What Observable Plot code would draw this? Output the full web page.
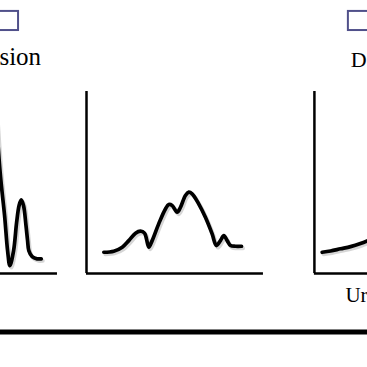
<!DOCTYPE html>
<html>
<head>
<meta charset="utf-8">
<script src="https://cdn.jsdelivr.net/npm/d3@7"></script>
<script src="https://cdn.jsdelivr.net/npm/@observablehq/plot@0.6"></script>
<style>
  html, body { margin: 0; padding: 0; background: white; }
  svg { overflow: hidden; display: block; }
</style>
</head>
<body>
<div id="chart"></div>
<script>
// Panels (schematic signal plots), local units: x 0..100 along x-axis, y 0..100 up the y-axis
const panels = ["left", "middle", "right"];
const panelOrigin = [-116.4, 0, 128.8];
const axisLength = [100, 100, 100];
const axisHeight = [100, 100, 100];

// Left panel curve (visible part)
const leftTime   = [63.3, 67.6, 70.1, 71.8, 73.1, 75.2, 76.9, 78.3, 79.5, 80.8, 82.2, 83.1, 83.8, 85.7, 88.5, 90.8];
const leftSignal = [117.0, 55.5, 31.9, 12.6, 4.4, 12.6, 28.0, 37.4, 40.5, 37.4, 26.4, 18.1, 12.6, 9.3, 8.1, 8.1];

// Middle panel curve
const midTime   = [9.8, 15.4, 20.2, 23.9, 27.7, 30.5, 32.8, 33.9, 35.2, 37.1, 40.8, 44.6, 46.5, 48.4, 51.2, 53.1, 55.9, 57.8, 59.7, 63.4, 67.2, 71.0, 73.4, 75.7, 77.6, 79.5, 81.4, 84.2, 87.6];
const midSignal = [11.7, 12.3, 14.5, 18.1, 22.2, 23.3, 22.2, 19.0, 14.5, 18.1, 27.3, 35.5, 37.9, 37.4, 33.7, 36.4, 42.9, 44.7, 43.8, 38.3, 30.9, 21.8, 15.4, 18.1, 20.9, 18.1, 15.4, 15.0, 15.0];

// Right panel curve (visible part)
const rightTime   = [4.4, 9.1, 14.7, 20.4, 26.0, 31.7, 37.3];
const rightSignal = [11.7, 12.4, 13.6, 14.8, 16.5, 18.7, 21.4];

// Labels (visible fragments)
const labelText = ["sion", "D", "Ur"];
const labelX    = [-49.2, 149.4, 146.3];
const labelY    = [114.3, 113.7, -15.4];
const labelSize = [25, 22, 21];

// Legend-like boxes at top
const boxX1 = [-52, 148.0];
const boxX2 = [-38.4, 165];
const boxY1 = [133.5, 133.5];
const boxY2 = [144.0, 144.0];

// Thick divider line
const dividerY = [-32.1];

const times = [leftTime, midTime, rightTime];
const signals = [leftSignal, midSignal, rightSignal];

const curves = panels.flatMap((p, i) =>
  times[i].map((t, j) => ({panel: p, x: panelOrigin[i] + t, y: signals[i][j]}))
);
const axes = panels.map((p, i) => ({panel: p, x0: panelOrigin[i], x1: panelOrigin[i] + axisLength[i], top: axisHeight[i]}));
const labels = labelText.map((t, i) => ({text: t, x: labelX[i], y: labelY[i], size: labelSize[i]}));
const boxes = boxX1.map((x, i) => ({x1: x, x2: boxX2[i], y1: boxY1[i], y2: boxY2[i]}));

const chart = Plot.plot({
  width: 367,
  height: 367,
  marginTop: 0, marginRight: 0, marginBottom: 0, marginLeft: 0,
  x: {domain: [-48.6, 158.8], axis: null},
  y: {domain: [-51.6, 150], axis: null},
  style: {background: "white"},
  marks: [
    // y axes
    Plot.ruleX(axes, {x: "x0", y1: 0, y2: "top", stroke: "black", strokeWidth: 2.5}),
    // x axes
    Plot.ruleY(axes, {y: () => 0, x1: "x0", x2: "x1", stroke: "black", strokeWidth: 2.5}),
    // curve shadow
    Plot.line(curves, {x: "x", y: "y", z: "panel", curve: "catmull-rom", stroke: "#bbb", strokeWidth: 4, strokeOpacity: 0.6, dx: 1.5, dy: 2}),
    // curves
    Plot.line(curves, {x: "x", y: "y", z: "panel", curve: "catmull-rom", stroke: "black", strokeWidth: 3.7}),
    // boxes
    Plot.rect(boxes, {x1: "x1", x2: "x2", y1: "y1", y2: "y2", fill: "white", stroke: "#50508a", strokeWidth: 2}),
    // labels
    Plot.text(labels, {x: "x", y: "y", text: "text", textAnchor: "start", lineAnchor: "bottom", fontFamily: "Liberation Serif", fontSize: d => d.size, fill: "black"}),
    // divider
    Plot.ruleY(dividerY, {stroke: "black", strokeWidth: 5})
  ]
});
document.getElementById("chart").appendChild(chart);
</script>
</body>
</html>
